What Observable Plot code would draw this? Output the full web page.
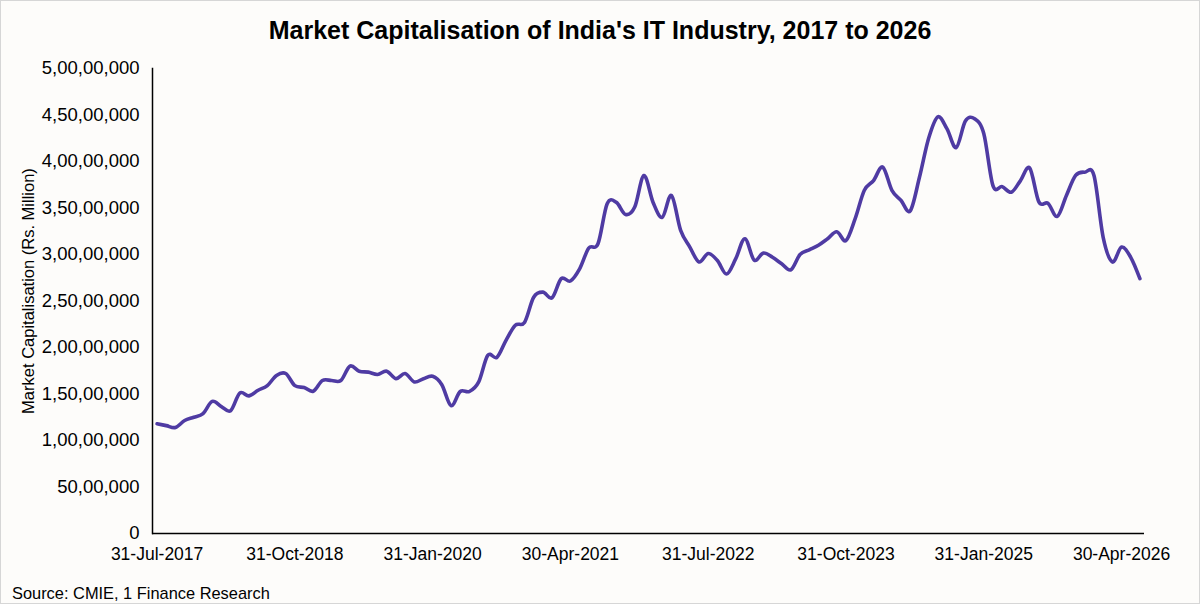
<!DOCTYPE html>
<html>
<head>
<meta charset="utf-8">
<script src="https://cdn.jsdelivr.net/npm/d3@7"></script>
<script src="https://cdn.jsdelivr.net/npm/@observablehq/plot@0.6"></script>
<style>
  html, body { margin: 0; padding: 0; background: #fdfcfa; }
  #chart { position: relative; width: 1200px; height: 604px; background: #fdfcfa; box-shadow: inset 0 0 0 1px #d6d6d6; overflow: hidden; font-family: "Liberation Sans", Arial, sans-serif; color: #000; }
  #title { position: absolute; top: 15px; left: 0; width: 1200px; text-align: center; font-weight: bold; font-size: 25px; line-height: 30px; }
  #plot { position: absolute; top: 60px; left: 0; }
  #source { position: absolute; left: 12px; top: 584px; font-size: 16.4px; line-height: 18px; }
</style>
</head>
<body>
<div id="chart">
  <div id="title">Market Capitalisation of India's IT Industry, 2017 to 2026</div>
  <div id="plot"></div>
  <div id="source">Source: CMIE, 1 Finance Research</div>
</div>
<script>
// Monthly market capitalisation (Rs. Million), Jul-2017 .. Jun-2026
const marketCap = [
  11800000, 11600000, 11400000, 12150000, 12500000, 12900000, 14200000, 13650000, 13200000, 15100000,
  14800000, 15400000, 15900000, 17000000, 17200000, 15900000, 15700000, 15300000, 16450000, 16450000,
  16450000, 18000000, 17450000, 17350000, 17100000, 17450000, 16650000, 17200000, 16300000, 16650000,
  16900000, 16000000, 13750000, 15270000, 15270000, 16270000, 19150000, 18950000, 20800000, 22400000,
  22700000, 25400000, 25950000, 25350000, 27400000, 27150000, 28450000, 30700000, 31150000, 35450000,
  35600000, 34300000, 35100000, 38500000, 35600000, 34000000, 36350000, 32600000, 30800000, 29200000,
  30100000, 29350000, 27900000, 29550000, 31700000, 29400000, 30150000, 29700000, 29000000, 28350000,
  30000000, 30500000, 31000000, 31700000, 32450000, 31500000, 33850000, 36900000, 37950000, 39400000,
  36900000, 35800000, 34700000, 38300000, 42500000, 44800000, 43500000, 41500000, 44350000, 44600000,
  43000000, 37400000, 37300000, 36700000, 37950000, 39300000, 35650000, 35500000, 34100000, 36350000,
  38500000, 38850000, 38500000, 31850000, 29200000, 30800000, 29700000, 27400000
];

// Category labels: month-end dates from Jul-2017 to Jun-2026
const firstMonth = new Date(Date.UTC(2017, 6, 1));
const endMonth = new Date(Date.UTC(2026, 6, 1));
const fmt = d3.utcFormat("%d-%b-%Y");
const monthLabels = d3.utcMonth.range(firstMonth, endMonth)
  .map(m => fmt(d3.utcDay.offset(d3.utcMonth.offset(m, 1), -1)));

const xTickLabels = ["31-Jul-2017", "31-Oct-2018", "31-Jan-2020", "30-Apr-2021",
                     "31-Jul-2022", "31-Oct-2023", "31-Jan-2025", "30-Apr-2026"];

const yTicks = [0, 5000000, 10000000, 15000000, 20000000, 25000000, 30000000, 35000000, 40000000, 45000000, 50000000];
const yTickLabels = ["0", "50,00,000", "1,00,00,000", "1,50,00,000", "2,00,00,000", "2,50,00,000",
                     "3,00,00,000", "3,50,00,000", "4,00,00,000", "4,50,00,000", "5,00,00,000"];

const yTitle = "Market Capitalisation (Rs. Million)";

const data = monthLabels.map((label, i) => ({label, value: marketCap[i]}));

const chart = Plot.plot({
  width: 1200,
  height: 520,
  marginLeft: 152,
  marginRight: 56,
  marginTop: 8,
  marginBottom: 47,
  style: {background: "transparent", fontFamily: "'Liberation Sans', Arial, sans-serif", color: "#000", overflow: "visible"},
  x: {type: "point", domain: monthLabels, padding: 0.5, round: false},
  y: {domain: [0, 50000000]},
  marks: [
    Plot.axisY({ticks: yTicks, tickFormat: d => yTickLabels[yTicks.indexOf(d)], tickSize: 0, tickPadding: 13, fontSize: 18.5, label: null, fill: "#000"}),
    Plot.axisX({ticks: xTickLabels, tickSize: 0, tickPadding: 14, fontSize: 17.5, label: null, fill: "#000"}),
    Plot.text([yTitle], {frameAnchor: "left", textAnchor: "middle", rotate: -90, dx: -124, dy: -10, fontSize: 16.5, fill: "#000"}),
    Plot.ruleY([0], {stroke: "#000", strokeWidth: 1.5}),
    Plot.frame({anchor: "left", stroke: "#000", strokeWidth: 1.5}),
    Plot.line(data, {x: "label", y: "value", curve: "cardinal", stroke: "#4f3ba3", strokeWidth: 3.6})
  ]
});
document.getElementById("plot").appendChild(chart);
</script>
</body>
</html>
